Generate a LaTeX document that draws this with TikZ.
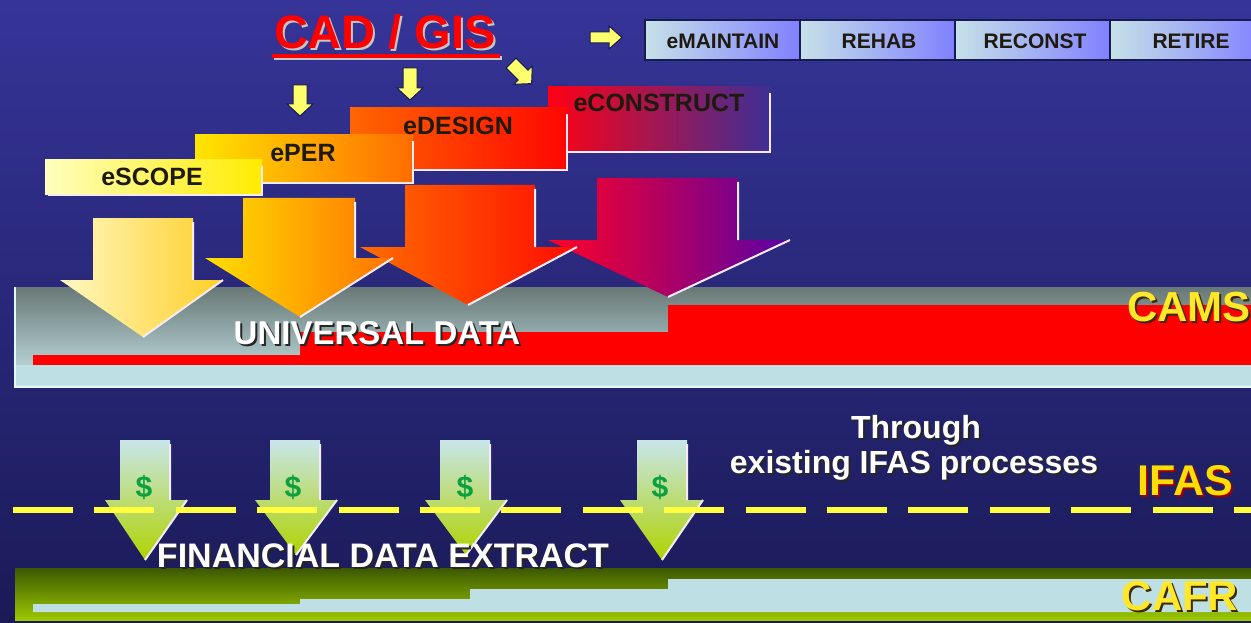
\documentclass[tikz,border=0pt]{standalone}
\usepackage{fontspec}
\setmainfont{Liberation Sans}
\definecolor{bgtop}{RGB}{54,52,152}
\definecolor{bgbot}{RGB}{26,26,88}
\definecolor{navyline}{RGB}{22,28,80}
\definecolor{arrowyellow}{RGB}{255,255,110}
\definecolor{boxlight}{RGB}{198,226,232}
\definecolor{boxmid}{RGB}{184,214,238}
\definecolor{boxblue}{RGB}{128,128,255}
\definecolor{labeldark}{RGB}{30,26,14}
\definecolor{bandgray}{RGB}{104,120,118}
\definecolor{bandcyan}{RGB}{200,230,234}
\definecolor{stripcyan}{RGB}{190,224,228}
\definecolor{cashgreen}{RGB}{12,160,64}
\definecolor{olive}{RGB}{60,88,0}
\definecolor{limegreen}{RGB}{156,200,0}
\definecolor{dashyellow}{RGB}{255,255,64}
\definecolor{titlegold}{RGB}{255,232,40}
\definecolor{goldshadow}{RGB}{60,40,0}
\newcommand\blockarrow[9]{%
  \shade[#9] (#1,#3) -- (#2,#3) -- (#2,#4) -- (#6,#4) -- (#7,#8) -- (#5,#4) -- (#1,#4) -- cycle;
  \draw[hilite] (#2,#3+4) -- (#2,#4) (#6,#4) -- (#7,#8);}
\newcommand\stagebox[6]{%
  \shade[left color=#5,right color=#6] (#1,#2) rectangle (#3,#4);
  \draw[hilite] (#3,#2+6) -- (#3,#4) -- (#1+3,#4);}
\begin{document}
\begin{tikzpicture}[x=1pt,y=-1pt,
  lbl/.style={font=\bfseries\fontsize{#1pt}{#1pt}\selectfont,inner sep=0pt},
  hilite/.style={draw=white!92!violet,line width=2pt},
  smallarrow/.style={fill=arrowyellow,draw=navyline,line width=1pt,line join=miter},
  phasebox/.style={left color=boxlight,middle color=boxmid,right color=boxblue,draw=navyline,line width=1.5pt},
  cash/.style={top color=bandcyan,middle color=bandcyan!70!limegreen,bottom color=limegreen!80!yellow}]
\useasboundingbox (0,0) rectangle (1251,623);
% backdrop
\shade[top color=bgtop,bottom color=bgbot] (0,0) rectangle (1251,623);

% heading with underline
\node[lbl=47,text=gray!45] (cadshadow) at (387,34) {CAD / GIS};
\node[lbl=47,text=red] (cad) at (385,32) {CAD / GIS};
\draw[gray!45,line width=4.5pt] (274,58) -- (502,58);
\draw[red,line width=4.5pt] (272,56) -- (500,56);

% small pointer arrows
\draw[smallarrow] (590,32) -- (609,32) -- (609,26) -- (622,37.5) -- (609,49) -- (609,43) -- (590,43) -- cycle;
\draw[smallarrow] (293,85) -- (307,85) -- (307,104) -- (313,104) -- (300,116) -- (287,104) -- (293,104) -- cycle;
\draw[smallarrow] (403,68) -- (417,68) -- (417,88) -- (423,88) -- (410,100) -- (397,88) -- (403,88) -- cycle;
\begin{scope}[shift={(521,73)},rotate=-45]
  \draw[smallarrow] (-14,-7) -- (3,-7) -- (3,-13) -- (15,0) -- (3,13) -- (3,7) -- (-14,7) -- cycle;
\end{scope}

% life-cycle phases along the top
\draw[phasebox] (645,20) rectangle (800,60);
\draw[phasebox] (800,20) rectangle (955,60);
\draw[phasebox] (955,20) rectangle (1110,60);
\draw[phasebox] (1110,20) rectangle (1265,60);
\node[lbl=21,text=labeldark] (maintain) at (723,41) {eMAINTAIN};
\node[lbl=21,text=labeldark] (rehab) at (879,41) {REHAB};
\node[lbl=21,text=labeldark] (reconst) at (1035,41) {RECONST};
\node[lbl=21,text=labeldark] (retire) at (1191,41) {RETIRE};

% project stages (stair steps)
\stagebox{548}{87}{770}{152}{red!92!magenta}{bgtop!90!violet}
\stagebox{350}{108}{567}{170}{orange!80!red}{red!95!orange}
\stagebox{195}{135}{413}{183}{yellow!80!orange}{orange!85!red}
\stagebox{45}{160}{262}{195}{yellow!25!white}{yellow!85!orange}
\node[lbl=25,text=labeldark] (construct) at (659,103) {eCONSTRUCT};
\node[lbl=25,text=labeldark] (design) at (458,126) {eDESIGN};
\node[lbl=25,text=labeldark] (per) at (303,153) {ePER};
\node[lbl=25,text=labeldark] (scope) at (152,177) {eSCOPE};

% universal data band
\shade[top color=bandgray,bottom color=bandcyan] (15,287) rectangle (1251,386);
\fill[red] (33,355) -- (300,355) -- (300,332) -- (668,332) -- (668,305) -- (1251,305) -- (1251,365) -- (33,365) -- cycle;
\fill[stripcyan] (15,365) rectangle (1251,385);
\draw[white!90!cyan,line width=2pt] (15,287) -- (15,387) -- (1251,387);

% stage hand-off arrows
\blockarrow{597}{738}{178}{240}{548}{790}{668}{297}{left color=red!85!magenta,right color=violet!70!blue}
\blockarrow{405}{535}{185}{247}{360}{577}{468}{305}{left color=orange!85!red,right color=red!90!orange}
\blockarrow{243}{355}{198}{258}{205}{393}{300}{317}{left color=yellow!75!orange,right color=orange!90!red}
\blockarrow{93}{193}{218}{280}{60}{223}{143}{337}{left color=yellow!20!white!95!orange,right color=yellow!55!orange!85!white}

\node[lbl=33,text=black!85] (univshadow) at (379,335) {UNIVERSAL DATA};
\node[lbl=33,text=white] (univ) at (377,333) {UNIVERSAL DATA};
\node[lbl=42,text=goldshadow,anchor=east] (camsshadow) at (1253,309) {CAMS};
\node[lbl=42,text=titlegold,anchor=east] (cams) at (1251,307) {CAMS};

% financial extracts
\blockarrow{120}{170}{440}{500}{105}{187}{145}{560}{cash}
\blockarrow{270}{320}{440}{500}{255}{337}{296}{555}{cash}
\blockarrow{440}{490}{440}{500}{425}{507}{466}{555}{cash}
\blockarrow{637}{687}{440}{500}{620}{703}{662}{560}{cash}
\node[lbl=30,text=cashgreen] (cash1) at (144,487) {\$};
\node[lbl=30,text=cashgreen] (cash2) at (293,487) {\$};
\node[lbl=30,text=cashgreen] (cash3) at (465,487) {\$};
\node[lbl=30,text=cashgreen] (cash4) at (660,487) {\$};

\draw[dashyellow,line width=6pt,dash pattern=on 60pt off 21.4pt] (13,510) -- (1251,510);

\node[lbl=32,text=black!85] (throughshadow) at (918,432) {Through};
\node[lbl=32,text=white] (through) at (916,430) {Through};
\node[lbl=32,text=black!85] (existshadow) at (916,467) {existing IFAS processes};
\node[lbl=32,text=white] (exist) at (914,465) {existing IFAS processes};
\node[lbl=43,text=red!60!black] (ifasshadow) at (1187,483) {IFAS};
\node[lbl=43,text=yellow!80!orange] (ifas) at (1185,481) {IFAS};

% financial report band
\shade[top color=olive,bottom color=limegreen] (15,568) rectangle (1251,620);
\fill[stripcyan] (33,604) -- (300,604) -- (300,599) -- (470,599) -- (470,589) -- (668,589) -- (668,579) -- (1251,579) -- (1251,612) -- (33,612) -- cycle;
\node[lbl=34,text=black!85] (finshadow) at (385,558) {FINANCIAL DATA EXTRACT};
\node[lbl=34,text=white] (fin) at (383,556) {FINANCIAL DATA EXTRACT};
\node[lbl=42,text=goldshadow] (cafrshadow) at (1182,598) {CAFR};
\node[lbl=42,text=titlegold] (cafr) at (1180,596) {CAFR};
\end{tikzpicture}
\end{document}
